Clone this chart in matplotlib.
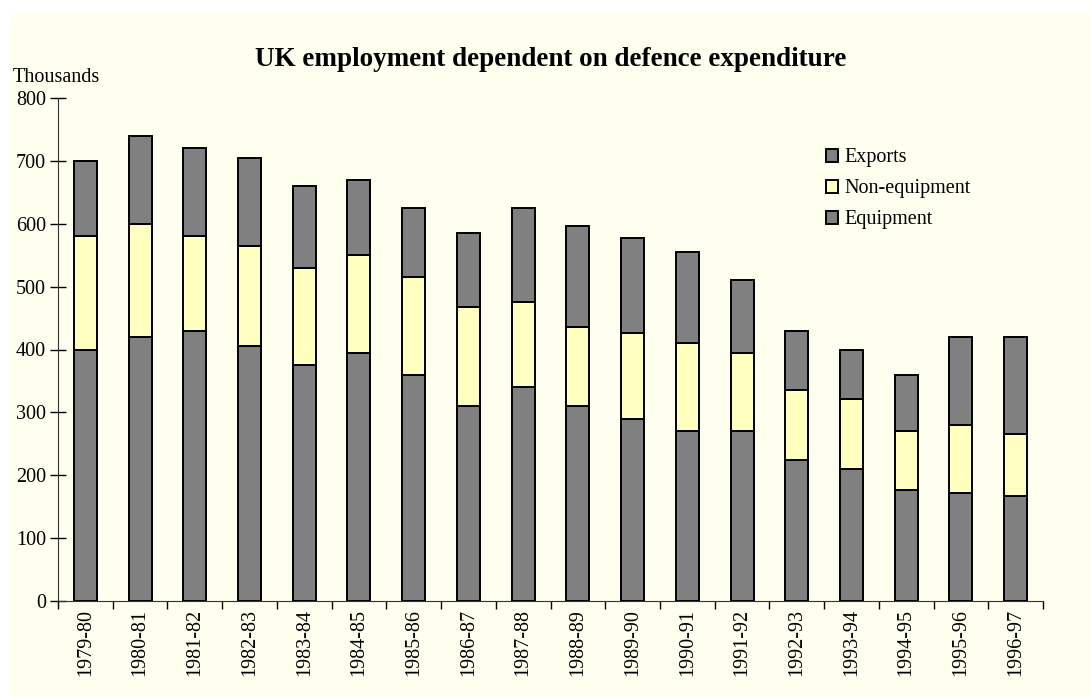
import numpy as np
import matplotlib.pyplot as plt
from matplotlib.patches import Rectangle

# data (thousands)
years = ['1979-80', '1980-81', '1981-82', '1982-83', '1983-84', '1984-85',
         '1985-86', '1986-87', '1987-88', '1988-89', '1989-90', '1990-91',
         '1991-92', '1992-93', '1993-94', '1994-95', '1995-96', '1996-97']
equipment = [400, 420, 430, 405, 375, 395, 360, 310, 340, 310, 290, 270,
             270, 225, 210, 177, 172, 167]
non_equipment = [180, 180, 150, 160, 155, 155, 155, 157, 135, 126, 136, 140,
                 125, 110, 111, 93, 108, 98]
exports = [120, 140, 140, 140, 130, 120, 110, 118, 150, 161, 151, 145,
           115, 95, 79, 90, 140, 155]

plt.rcParams['font.family'] = ['Liberation Serif', 'DejaVu Serif']
fs = 14.5

fig = plt.figure(figsize=(10.91, 6.97), dpi=100, facecolor='white')
# cream panel behind everything
fig.patches.append(Rectangle((10 / 1091, 0), 1 - 10 / 1091, 1 - 14 / 697,
                             transform=fig.transFigure, facecolor='#FFFFF0',
                             edgecolor='none', zorder=-10))

ax = fig.add_axes([58 / 1091, 1 - 601 / 697, 985 / 1091, 503 / 697])
ax.set_facecolor('none')

x = np.arange(len(years))
w = 0.42
eq = np.array(equipment)
ne = np.array(non_equipment)
ex = np.array(exports)

kw = dict(width=w, edgecolor='black', linewidth=1.4, zorder=3)
b1 = ax.bar(x, eq, color='#808080', label='Equipment', **kw)
b2 = ax.bar(x, ne, bottom=eq, color='#FFFFC0', label='Non-equipment', **kw)
b3 = ax.bar(x, ex, bottom=eq + ne, color='#808080', label='Exports', **kw)

ax.set_xlim(-0.5, len(years) - 0.5)
ax.set_ylim(0, 800)
ax.set_yticks(range(0, 801, 100))
ax.tick_params(axis='y', direction='inout', length=11, width=1,
               labelsize=fs, pad=3, colors='black')

ax.set_xticks(x)
ax.set_xticklabels(years, rotation=90, fontsize=fs)
ax.tick_params(axis='x', which='major', length=0, pad=6)
ax.set_xticks(np.arange(-0.5, len(years)), minor=True)
ax.tick_params(axis='x', which='minor', direction='out', length=6, width=1)

for s in ['top', 'right']:
    ax.spines[s].set_visible(False)
ax.spines['left'].set_color('#333333')
ax.spines['bottom'].set_color('#333333')

ax.set_title('UK employment dependent on defence expenditure',
             fontsize=19.5, fontweight='bold', pad=23)
fig.text(13 / 1091, 1 - 78 / 697, 'Thousands', fontsize=fs, va='center')

leg = ax.legend([b3, b2, b1], ['Exports', 'Non-equipment', 'Equipment'],
                loc='upper left', bbox_to_anchor=(0.78, 0.90), frameon=False,
                fontsize=fs, handlelength=0.6, handleheight=0.6,
                handletextpad=0.3, labelspacing=0.6, borderpad=0,
                borderaxespad=0)

fig.savefig('out.png', dpi=100, facecolor=fig.get_facecolor())
